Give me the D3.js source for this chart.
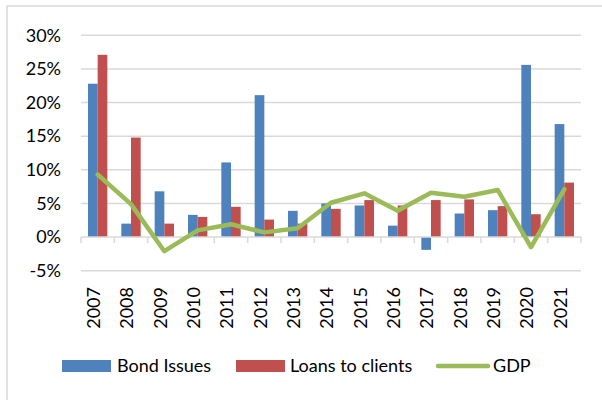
<!DOCTYPE html>
<html>
<head>
<meta charset="utf-8">
<script src="https://cdn.jsdelivr.net/npm/d3@7"></script>
<style>
  html, body { margin: 0; padding: 0; background: #fff; }
  svg { display: block; font-family: Lato, "Open Sans", sans-serif; }
</style>
</head>
<body>
<svg id="chart" width="602" height="400"></svg>
<script>
// Annual growth rates (%) by year
const years = ["2007","2008","2009","2010","2011","2012","2013","2014","2015","2016","2017","2018","2019","2020","2021"];
const bondIssues = [22.8, 2.0, 6.8, 3.3, 11.1, 21.1, 3.9, 5.0, 4.7, 1.7, -1.9, 3.5, 4.0, 25.6, 16.8];
const loansToClients = [27.1, 14.8, 2.0, 3.0, 4.5, 2.6, 2.0, 4.2, 5.5, 4.7, 5.5, 5.6, 4.6, 3.4, 8.1];
const gdp = [9.3, 4.9, -2.1, 1.0, 1.9, 0.7, 1.3, 5.1, 6.5, 3.9, 6.6, 6.0, 7.0, -1.5, 7.1];
const yTicks = [-5, 0, 5, 10, 15, 20, 25, 30];
const seriesNames = ["Bond Issues", "Loans to clients", "GDP"];

const colors = { bond: "#4F81BD", loans: "#C0504D", gdp: "#9BBB59", grid: "#D9D9D9", text: "#000" };

const svg = d3.select("#chart");

// outer frame (top and left edges visible)
svg.append("rect")
  .attr("x", 7).attr("y", 6).attr("width", 620).attr("height", 420)
  .attr("fill", "none").attr("stroke", colors.grid).attr("stroke-width", 1.5);

const plot = { left: 81, right: 581, top: 35.3, bottom: 270.7 };

const y = d3.scaleLinear().domain([-5, 30]).range([plot.bottom, plot.top]);
const x = d3.scaleBand().domain(years).range([plot.left, plot.right])
  .paddingInner(0.42).paddingOuter(0.21);
const xs = d3.scaleBand().domain(["bond", "loans"]).range([0, x.bandwidth()]);
const step = x.step();

// horizontal gridlines
svg.append("g").selectAll("line")
  .data(yTicks.filter(t => t !== 0))
  .join("line")
  .attr("x1", plot.left).attr("x2", plot.right)
  .attr("y1", d => y(d)).attr("y2", d => y(d))
  .attr("stroke", colors.grid).attr("stroke-width", 1.5);

// y axis labels
svg.append("g").selectAll("text")
  .data(yTicks)
  .join("text")
  .attr("x", 61).attr("y", d => y(d))
  .attr("dy", "0.35em")
  .attr("text-anchor", "end")
  .attr("font-size", 18)
  .attr("fill", colors.text)
  .text(d => d + "%");

// bars
const rows = years.map((yr, i) => ({ year: yr, bond: bondIssues[i], loans: loansToClients[i] }));
const groups = svg.append("g").selectAll("g")
  .data(rows).join("g")
  .attr("transform", d => `translate(${x(d.year)},0)`);

groups.selectAll("rect")
  .data(d => [{ key: "bond", v: d.bond }, { key: "loans", v: d.loans }])
  .join("rect")
  .attr("x", d => xs(d.key))
  .attr("width", xs.bandwidth())
  .attr("y", d => y(Math.max(0, d.v)))
  .attr("height", d => Math.abs(y(d.v) - y(0)))
  .attr("fill", d => colors[d.key]);

// zero axis line with category ticks
const axisG = svg.append("g");
axisG.append("line")
  .attr("x1", plot.left).attr("x2", plot.right)
  .attr("y1", y(0)).attr("y2", y(0))
  .attr("stroke", colors.grid).attr("stroke-width", 1.5);
axisG.selectAll("line.tick")
  .data(d3.range(years.length + 1))
  .join("line").attr("class", "tick")
  .attr("x1", i => plot.left + i * step).attr("x2", i => plot.left + i * step)
  .attr("y1", y(0)).attr("y2", y(0) + 6)
  .attr("stroke", colors.grid).attr("stroke-width", 1.5);

// GDP line
const line = d3.line()
  .x((d, i) => x(years[i]) + x.bandwidth() / 2)
  .y(d => y(d));
svg.append("path")
  .datum(gdp)
  .attr("d", line)
  .attr("fill", "none")
  .attr("stroke", colors.gdp)
  .attr("stroke-width", 4.5)
  .attr("stroke-linejoin", "round")
  .attr("stroke-linecap", "round");

// x axis labels (rotated)
svg.append("g").selectAll("text")
  .data(years)
  .join("text")
  .attr("transform", d => `translate(${x(d) + x.bandwidth() / 2},287) rotate(-90)`)
  .attr("dy", "0.13em")
  .attr("text-anchor", "end")
  .attr("font-size", 18)
  .attr("fill", colors.text)
  .text(d => d);

// legend
const legend = svg.append("g");
const ly = 366;
legend.append("rect").attr("x", 62).attr("y", ly - 6).attr("width", 49).attr("height", 12).attr("fill", colors.bond);
legend.append("text").attr("x", 117).attr("y", ly).attr("dy", "0.35em").attr("font-size", 18).text(seriesNames[0]);
legend.append("rect").attr("x", 236).attr("y", ly - 6).attr("width", 49).attr("height", 12).attr("fill", colors.loans);
legend.append("text").attr("x", 290).attr("y", ly).attr("dy", "0.35em").attr("font-size", 18).text(seriesNames[1]);
legend.append("line").attr("x1", 438).attr("x2", 488).attr("y1", ly).attr("y2", ly)
  .attr("stroke", colors.gdp).attr("stroke-width", 4.5).attr("stroke-linecap", "round");
legend.append("text").attr("x", 493).attr("y", ly).attr("dy", "0.35em").attr("font-size", 18).text(seriesNames[2]);
</script>
</body>
</html>
